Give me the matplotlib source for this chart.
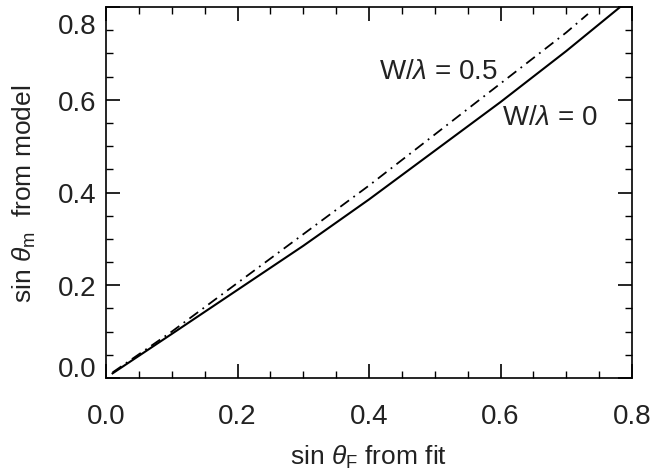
import numpy as np
import matplotlib
matplotlib.use("Agg")
import matplotlib.pyplot as plt
import matplotlib.transforms as mtransforms
from matplotlib.ticker import MultipleLocator, FormatStrFormatter

plt.rcParams['font.family'] = ['Liberation Sans', 'DejaVu Sans']
plt.rcParams['mathtext.fontset'] = 'custom'
plt.rcParams['mathtext.rm'] = 'Liberation Sans'
plt.rcParams['mathtext.it'] = 'Liberation Sans:italic'

# values
x_w0 = [0.01, 0.1, 0.2, 0.3, 0.4, 0.5, 0.6, 0.7, 0.782]
y_w0 = [0.01, 0.095, 0.19, 0.285, 0.385, 0.49, 0.595, 0.705, 0.80]

x_w05 = [0.01, 0.1, 0.2, 0.3, 0.4, 0.5, 0.6, 0.7, 0.733]
y_w05 = [0.012, 0.10, 0.205, 0.31, 0.415, 0.525, 0.635, 0.745, 0.785]

txt = '#222222'

fig = plt.figure(figsize=(6.52, 4.77), dpi=100)
ax = fig.add_axes([106/652, 1 - 379/477, (632-106)/652, (379-8)/477])

ax.plot(x_w0, y_w0, color='black', lw=1.5)
ax.plot(x_w05, y_w05, color='black', lw=1.3, linestyle=(0, (6, 3, 1, 3)))

ax.text(0.415, 0.662, r'W/$\lambda$ = 0.5', fontsize=20, va='center', ha='left', color=txt)
ax.text(0.602, 0.563, r'W/$\lambda$ = 0', fontsize=20, va='center', ha='left', color=txt)

ax.set_xlim(0, 0.8)
ax.set_ylim(0, 0.8)
ax.xaxis.set_major_locator(MultipleLocator(0.2))
ax.xaxis.set_minor_locator(MultipleLocator(0.05))
ax.yaxis.set_major_locator(MultipleLocator(0.2))
ax.yaxis.set_minor_locator(MultipleLocator(0.05))
ax.xaxis.set_major_formatter(FormatStrFormatter('%.1f'))
ax.yaxis.set_major_formatter(FormatStrFormatter('%.1f'))
ax.tick_params(which='both', direction='in', top=True, right=True, labelsize=20,
               labelcolor=txt, color='black')
ax.tick_params(which='major', length=10, width=1.2)
ax.tick_params(which='minor', length=5, width=1.0)
ax.tick_params(axis='x', which='major', pad=18)
ax.tick_params(axis='y', which='major', pad=7)
for s in ax.spines.values():
    s.set_linewidth(1.2)

ax.set_xlabel(r'sin $\theta_{\rm F}$ from fit', fontsize=19, labelpad=10, color=txt)
ax.set_ylabel(r'sin $\theta_{\rm m}$  from model', fontsize=19, labelpad=14, color=txt)

# keep the end labels of the y axis inside the frame, as in the reference
fig.canvas.draw()
for lab in ax.get_yticklabels():
    if lab.get_text() == '0.8':
        lab.set_verticalalignment('top')
        lab.set_transform(lab.get_transform() + mtransforms.ScaledTranslation(0, -4/72, fig.dpi_scale_trans))
    elif lab.get_text() == '0.0':
        lab.set_verticalalignment('bottom')
        lab.set_transform(lab.get_transform() + mtransforms.ScaledTranslation(0, -3/72, fig.dpi_scale_trans))

fig.savefig('out.png', dpi=100)
